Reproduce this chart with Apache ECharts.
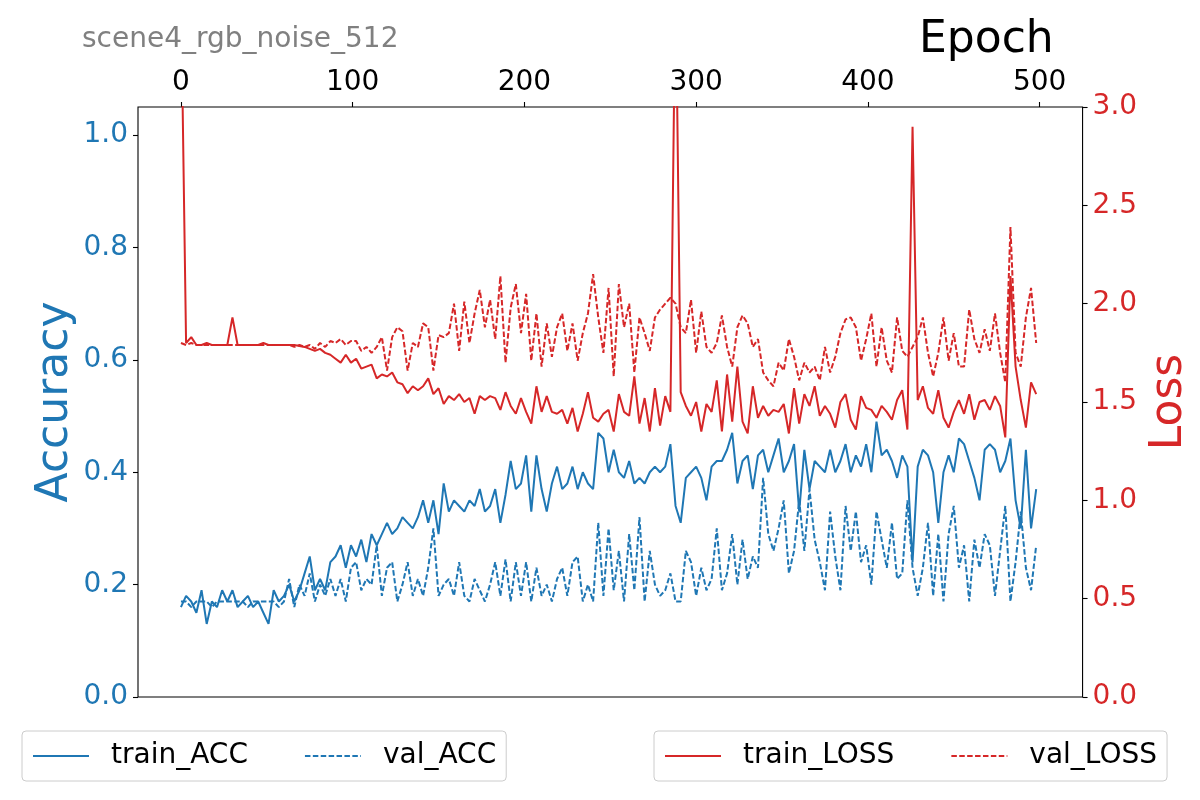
<!DOCTYPE html>
<html>
<head>
<meta charset="utf-8">
<title>scene4_rgb_noise_512</title>
<script src="https://cdn.jsdelivr.net/npm/echarts@6/dist/echarts.min.js"></script>
<style>
  html, body {margin: 0; padding: 0; background: #fff;}
  #chart {width: 1200px; height: 800px;}
</style>
</head>
<body>
<div id="chart"></div>
<script>
// values, one every 3 epochs
const epochs = Array.from({length: 167}, (_, i) => i * 3);

const train_acc = [
    0.16, 0.18, 0.17, 0.15, 0.19, 0.13, 0.17, 0.16, 0.19, 0.17,
    0.19, 0.16, 0.17, 0.18, 0.16, 0.17, 0.15, 0.13, 0.19, 0.17,
    0.18, 0.20, 0.17, 0.19, 0.22, 0.25, 0.19, 0.21, 0.19, 0.24,
    0.25, 0.27, 0.23, 0.27, 0.25, 0.28, 0.24, 0.29, 0.27, 0.29,
    0.31, 0.29, 0.30, 0.32, 0.31, 0.30, 0.32, 0.35, 0.31, 0.35,
    0.29, 0.38, 0.33, 0.35, 0.34, 0.33, 0.35, 0.34, 0.37, 0.33,
    0.34, 0.37, 0.31, 0.36, 0.42, 0.37, 0.38, 0.43, 0.33, 0.43,
    0.37, 0.33, 0.38, 0.41, 0.37, 0.38, 0.41, 0.37, 0.40, 0.38,
    0.37, 0.47, 0.46, 0.40, 0.44, 0.40, 0.39, 0.42, 0.38, 0.39,
    0.38, 0.40, 0.41, 0.40, 0.41, 0.45, 0.34, 0.31, 0.39, 0.40,
    0.41, 0.39, 0.35, 0.41, 0.42, 0.42, 0.44, 0.47, 0.38, 0.42,
    0.43, 0.37, 0.43, 0.44, 0.40, 0.43, 0.46, 0.40, 0.42, 0.45,
    0.33, 0.44, 0.37, 0.42, 0.41, 0.40, 0.44, 0.40, 0.42, 0.45,
    0.40, 0.43, 0.41, 0.45, 0.40, 0.49, 0.43, 0.44, 0.42, 0.39,
    0.43, 0.41, 0.24, 0.41, 0.44, 0.43, 0.40, 0.31, 0.40, 0.43,
    0.40, 0.46, 0.45, 0.42, 0.39, 0.35, 0.44, 0.45, 0.44, 0.40,
    0.42, 0.46, 0.35, 0.30, 0.44, 0.30, 0.37
];

const val_acc = [
    0.17, 0.17, 0.16, 0.17, 0.17, 0.17, 0.16, 0.17, 0.17, 0.17,
    0.17, 0.17, 0.17, 0.16, 0.17, 0.17, 0.17, 0.17, 0.17, 0.16,
    0.17, 0.21, 0.16, 0.20, 0.18, 0.22, 0.17, 0.20, 0.18, 0.21,
    0.18, 0.21, 0.17, 0.23, 0.24, 0.19, 0.21, 0.20, 0.27, 0.18,
    0.23, 0.24, 0.17, 0.20, 0.24, 0.18, 0.21, 0.18, 0.23, 0.30,
    0.18, 0.20, 0.21, 0.18, 0.24, 0.18, 0.17, 0.21, 0.19, 0.17,
    0.20, 0.24, 0.18, 0.245, 0.17, 0.24, 0.18, 0.24, 0.17, 0.23,
    0.18, 0.20, 0.17, 0.21, 0.23, 0.18, 0.24, 0.25, 0.17, 0.20,
    0.17, 0.31, 0.18, 0.30, 0.19, 0.26, 0.17, 0.29, 0.19, 0.32,
    0.17, 0.26, 0.20, 0.18, 0.19, 0.22, 0.17, 0.17, 0.26, 0.24,
    0.18, 0.23, 0.19, 0.21, 0.30, 0.19, 0.22, 0.29, 0.20, 0.28,
    0.21, 0.25, 0.23, 0.39, 0.29, 0.26, 0.30, 0.35, 0.22, 0.26,
    0.35, 0.26, 0.37, 0.28, 0.24, 0.19, 0.33, 0.25, 0.19, 0.34,
    0.26, 0.33, 0.24, 0.27, 0.20, 0.33, 0.28, 0.23, 0.31, 0.21,
    0.22, 0.35, 0.23, 0.18, 0.23, 0.31, 0.18, 0.29, 0.17, 0.29,
    0.34, 0.23, 0.27, 0.17, 0.28, 0.23, 0.29, 0.27, 0.18, 0.26,
    0.34, 0.17, 0.24, 0.33, 0.23, 0.19, 0.27
];

const train_loss = [
    3.6, 1.80, 1.83, 1.79, 1.79, 1.80, 1.79, 1.79, 1.79, 1.79,
    1.93, 1.79, 1.79, 1.79, 1.79, 1.79, 1.80, 1.79, 1.79, 1.79,
    1.79, 1.79, 1.79, 1.785, 1.78, 1.77, 1.76, 1.77, 1.75, 1.74,
    1.72, 1.70, 1.74, 1.70, 1.72, 1.67, 1.68, 1.69, 1.62, 1.64,
    1.63, 1.65, 1.60, 1.59, 1.545, 1.58, 1.56, 1.58, 1.62, 1.54,
    1.57, 1.49, 1.53, 1.51, 1.54, 1.50, 1.52, 1.44, 1.53, 1.51,
    1.53, 1.52, 1.46, 1.55, 1.48, 1.44, 1.52, 1.45, 1.39, 1.58,
    1.45, 1.53, 1.45, 1.44, 1.46, 1.39, 1.47, 1.35, 1.44, 1.55,
    1.42, 1.40, 1.44, 1.46, 1.35, 1.54, 1.45, 1.43, 1.63, 1.39,
    1.52, 1.35, 1.57, 1.38, 1.53, 1.45, 3.7, 1.55, 1.48, 1.43,
    1.50, 1.35, 1.49, 1.45, 1.61, 1.35, 1.64, 1.40, 1.68, 1.40,
    1.34, 1.58, 1.42, 1.48, 1.43, 1.46, 1.45, 1.49, 1.34, 1.57,
    1.39, 1.54, 1.48, 1.58, 1.43, 1.48, 1.44, 1.37, 1.50, 1.54,
    1.41, 1.36, 1.53, 1.47, 1.46, 1.42, 1.48, 1.45, 1.41, 1.51,
    1.56, 1.36, 2.90, 1.51, 1.58, 1.47, 1.44, 1.56, 1.42, 1.37,
    1.45, 1.51, 1.44, 1.54, 1.41, 1.50, 1.51, 1.46, 1.53, 1.48,
    1.32, 2.14, 1.68, 1.51, 1.37, 1.60, 1.54
];

const val_loss = [
    1.80, 1.79, 1.80, 1.79, 1.79, 1.79, 1.79, 1.79, 1.79, 1.79,
    1.79, 1.79, 1.79, 1.79, 1.79, 1.79, 1.79, 1.79, 1.79, 1.79,
    1.79, 1.79, 1.78, 1.79, 1.78, 1.79, 1.77, 1.80, 1.78, 1.81,
    1.80, 1.82, 1.79, 1.81, 1.81, 1.76, 1.78, 1.75, 1.78, 1.83,
    1.66, 1.83, 1.88, 1.86, 1.66, 1.80, 1.78, 1.90, 1.88, 1.66,
    1.84, 1.83, 1.85, 2.00, 1.76, 2.01, 1.80, 1.95, 2.07, 1.88,
    2.02, 1.82, 2.14, 1.70, 1.98, 2.10, 1.85, 2.05, 1.71, 1.95,
    1.68, 1.90, 1.73, 1.88, 1.95, 1.76, 1.90, 1.71, 1.85, 1.95,
    2.15, 1.93, 1.75, 2.08, 1.63, 2.10, 1.88, 2.00, 1.65, 1.93,
    1.85, 1.76, 1.93, 1.97, 2.00, 2.03, 2.00, 1.88, 1.85, 2.02,
    1.75, 1.96, 1.78, 1.75, 1.80, 1.94, 1.78, 1.68, 1.88, 1.94,
    1.90, 1.78, 1.82, 1.65, 1.61, 1.58, 1.70, 1.66, 1.82, 1.73,
    1.61, 1.70, 1.65, 1.68, 1.61, 1.78, 1.65, 1.73, 1.85, 1.92,
    1.93, 1.88, 1.71, 1.82, 1.95, 1.68, 1.88, 1.71, 1.65, 1.93,
    1.76, 1.73, 1.78, 1.83, 1.93, 1.75, 1.63, 1.75, 1.93, 1.71,
    1.85, 1.68, 1.68, 1.97, 1.82, 1.75, 1.87, 1.76, 1.95, 1.75,
    1.60, 2.39, 1.75, 1.68, 1.93, 2.08, 1.80
];

const x_ticks = [0, 100, 200, 300, 400, 500];
const acc_ticks = [0, 0.2, 0.4, 0.6, 0.8, 1.0];
const loss_ticks = [0, 0.5, 1.0, 1.5, 2.0, 2.5, 3.0];

const BLUE = '#1f77b4';
const RED = '#d62728';
const FONT = 'DejaVu Sans';
const DASH = [5.5, 2.4];

const pairs = vals => epochs.map((e, i) => [e, vals[i]]);

const chart = echarts.init(document.getElementById('chart'), null, {renderer: 'canvas'});

function legend_box(left, names) {
    return {
        data: names,
        left: left, top: 731,
        orient: 'horizontal',
        itemWidth: 56, itemHeight: 28, itemGap: 56,
        padding: [11, 10, 11, 10],
        borderColor: '#cccccc', borderWidth: 1, borderRadius: 4,
        backgroundColor: '#fff',
        // hide the marker dot, keep only the line sample
        itemStyle: {opacity: 0},
        textStyle: {fontFamily: FONT, fontSize: 28, color: '#000', padding: [0, 0, 0, 17]},
        selectedMode: false
    };
}

function line(name, vals, color, dashed, yIndex) {
    return {
        name: name, type: 'line', yAxisIndex: yIndex,
        data: pairs(vals),
        symbol: 'none', clip: true,
        lineStyle: {color: color, width: 2, type: dashed ? DASH : 'solid'},
        itemStyle: {color: color},
        z: yIndex === 1 ? 3 : 2
    };
}

const tick_style = {color: '#000', width: 1.1};

const option = {
    animation: false,
    backgroundColor: '#fff',
    textStyle: {fontFamily: FONT},
    title: [
        {text: 'scene4_rgb_noise_512', left: 82, top: 26, padding: 0,
            textStyle: {fontFamily: FONT, fontSize: 28, fontWeight: 'normal', color: '#808080'}},
        {text: 'Epoch', left: 919, top: 19, padding: 0,
            textStyle: {fontFamily: FONT, fontSize: 44, fontWeight: 'normal', color: '#000'}}
    ],
    legend: [
        legend_box(22, ['train_ACC', 'val_ACC']),
        legend_box(654, ['train_LOSS', 'val_LOSS'])
    ],
    grid: {
        left: 138, right: 117, top: 107, bottom: 103,
        show: true, borderColor: '#000', borderWidth: 1.1, backgroundColor: 'transparent'
    },
    xAxis: {
        type: 'value', position: 'top', min: -25, max: 525,
        axisLine: {show: false, onZero: false},
        axisTick: {show: true, length: 5, lineStyle: tick_style, customValues: x_ticks},
        axisLabel: {fontFamily: FONT, fontSize: 28, color: '#000', margin: 10, customValues: x_ticks},
        splitLine: {show: false}
    },
    yAxis: [
        {
            type: 'value', position: 'left', min: 0, max: 1.05,
            name: 'Accuracy', nameLocation: 'middle', nameRotate: 90, nameGap: 60,
            nameMoveOverlap: false,
            nameTextStyle: {fontFamily: FONT, fontSize: 44, color: BLUE},
            axisLine: {show: false, onZero: false},
            axisTick: {show: true, length: 5, lineStyle: tick_style, customValues: acc_ticks},
            axisLabel: {fontFamily: FONT, fontSize: 28, color: BLUE, margin: 10,
                customValues: acc_ticks, formatter: v => v.toFixed(1)},
            splitLine: {show: false}
        },
        {
            type: 'value', position: 'right', min: 0, max: 3,
            name: 'Loss', nameLocation: 'middle', nameRotate: 90, nameGap: 64,
            nameTextStyle: {fontFamily: FONT, fontSize: 44, color: RED},
            axisLine: {show: false, onZero: false},
            axisTick: {show: true, length: 5, lineStyle: tick_style, customValues: loss_ticks},
            axisLabel: {fontFamily: FONT, fontSize: 28, color: RED, margin: 10,
                customValues: loss_ticks, formatter: v => v.toFixed(1)},
            splitLine: {show: false}
        }
    ],
    series: [
        line('train_ACC', train_acc, BLUE, false, 0),
        line('val_ACC', val_acc, BLUE, true, 0),
        line('train_LOSS', train_loss, RED, false, 1),
        line('val_LOSS', val_loss, RED, true, 1)
    ]
};

chart.setOption(option);
</script>
</body>
</html>
